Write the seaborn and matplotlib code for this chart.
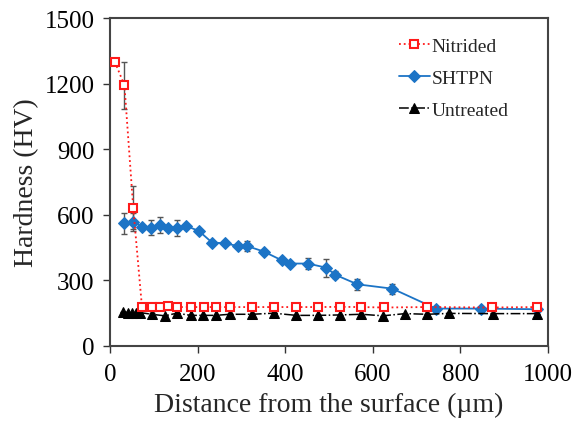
import numpy as np
import pandas as pd
import matplotlib
matplotlib.use("Agg")
import matplotlib.pyplot as plt
import seaborn as sns

# ---- data ----
nit_x = [11, 33, 53, 73, 95, 114, 133, 154, 186, 215, 243, 274, 325, 374, 424, 475, 525, 574, 625, 724, 873, 975]
nit_y = [1300, 1192, 633, 178, 178, 178, 182, 178, 178, 178, 178, 178, 178, 178, 178, 178, 179, 178, 176, 178, 176, 178]
nit_e = [0, 108, 98, 0, 0, 0, 0, 0, 0, 0, 0, 0, 0, 0, 0, 0, 0, 0, 0, 0, 0, 0]

sht_x = [32, 53, 74, 94, 114, 133, 154, 174, 203, 233, 262, 292, 313, 351, 392, 412, 452, 494, 514, 565, 645, 744, 846, 975]
sht_y = [561, 567, 546, 541, 552, 541, 541, 549, 526, 473, 470, 457, 457, 432, 392, 377, 377, 358, 326, 282, 262, 171, 171, 168]
sht_e = [47, 40, 0, 35, 36, 0, 37, 0, 0, 0, 0, 0, 22, 0, 0, 0, 25, 42, 15, 24, 23, 0, 0, 0]

unt_x = [30, 40, 50, 60, 68, 95, 125, 153, 184, 213, 242, 273, 324, 374, 425, 476, 525, 574, 623, 674, 724, 775, 875, 975]
unt_y = [155, 153, 150, 150, 153, 145, 138, 150, 140, 140, 140, 145, 145, 150, 140, 140, 142, 145, 138, 148, 145, 149, 148, 148]
unt_e = [0, 0, 0, 0, 0, 8, 0, 8, 0, 0, 0, 0, 0, 0, 0, 0, 0, 0, 0, 0, 0, 0, 0, 0]

x_ticks = [0, 200, 400, 600, 800, 1000]
y_ticks = [0, 300, 600, 900, 1200, 1500]

sns.set_style("ticks")
plt.rcParams['font.family'] = ['Liberation Serif', 'DejaVu Serif']

fig = plt.figure(figsize=(5.75, 4.27), dpi=100)
ax = fig.add_axes([0.1913, 0.1874, 0.7617, 0.7681])

red = '#ff1a1a'
blue = '#1c74c6'

for xs, ys, es in [(nit_x, nit_y, nit_e), (sht_x, sht_y, sht_e), (unt_x, unt_y, unt_e)]:
    ax.errorbar(xs, ys, yerr=es, fmt='none', ecolor='#555555', elinewidth=1,
                capsize=2.5, capthick=1, zorder=2)

df_n = pd.DataFrame({'x': nit_x, 'y': nit_y})
df_s = pd.DataFrame({'x': sht_x, 'y': sht_y})
df_u = pd.DataFrame({'x': unt_x, 'y': unt_y})

sns.lineplot(data=df_n, x='x', y='y', ax=ax, sort=False, estimator=None, color=red,
             linestyle=':', linewidth=1.3, marker='s', markersize=6, markerfacecolor='white',
             markeredgecolor=red, markeredgewidth=1.5, label='Nitrided', zorder=4)
sns.lineplot(data=df_s, x='x', y='y', ax=ax, sort=False, estimator=None, color=blue,
             linestyle='-', linewidth=1.3, marker='D', markersize=6.5, markerfacecolor=blue,
             markeredgecolor=blue, label='SHTPN', zorder=3)
sns.lineplot(data=df_u, x='x', y='y', ax=ax, sort=False, estimator=None, color='black',
             linestyle='-.', linewidth=1.1, marker='^', markersize=7, markerfacecolor='black',
             markeredgecolor='black', label='Untreated', zorder=3)

ax.set_xlim(0, 1000)
ax.set_ylim(0, 1500)
ax.set_xticks(x_ticks)
ax.set_yticks(y_ticks)
ax.set_xlabel('Distance from the surface (µm)', fontsize=20, labelpad=5)
ax.set_ylabel('Hardness (HV)', fontsize=20, labelpad=4)
ax.tick_params(axis='both', labelsize=18, direction='out', length=5, width=1, colors='#333333', labelcolor='black')
ax.tick_params(axis='x', pad=7)
ax.tick_params(axis='y', pad=6)

for s in ax.spines.values():
    s.set_visible(True)
    s.set_linewidth(1.5)
    s.set_color('#444444')

leg = ax.legend(loc='upper right', frameon=False, fontsize=14, handlelength=1.6,
                handletextpad=0.1, labelspacing=0.75, bbox_to_anchor=(0.95, 0.995))

fig.savefig('out.png', dpi=100)
